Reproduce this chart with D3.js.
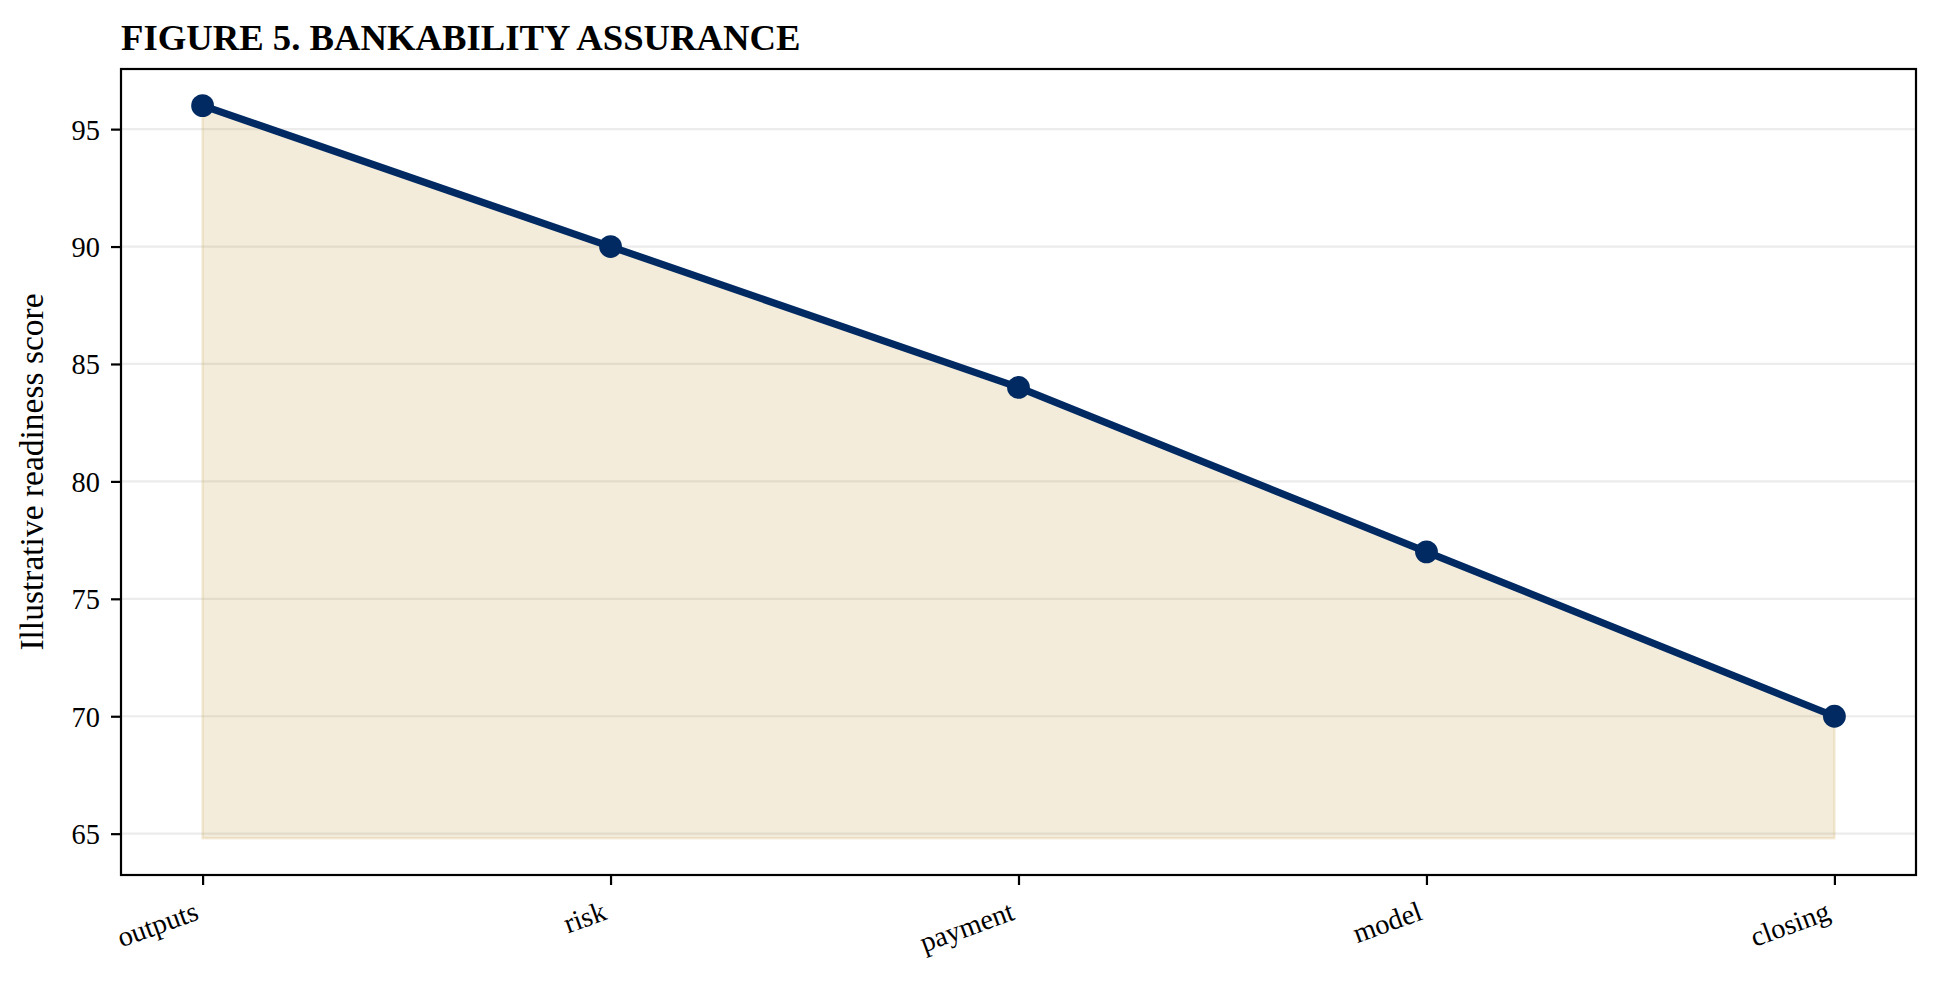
<!DOCTYPE html>
<html>
<head>
<meta charset="utf-8">
<script src="https://cdn.jsdelivr.net/npm/d3@7"></script>
<style>
  html, body { margin: 0; padding: 0; background: #ffffff; }
  svg { display: block; }
  text { font-family: "Liberation Serif", "Times New Roman", serif; fill: #000; }
</style>
</head>
<body>
<svg id="chart" width="1940" height="983"></svg>
<script>
// ---- data ----
const categories = ["outputs", "risk", "payment", "model", "closing"];
const scores = [96, 90, 84, 77, 70];
const fillBaseline = 64.8;
const yTicks = [65, 70, 75, 80, 85, 90, 95];
const yTickLabels = ["65", "70", "75", "80", "85", "90", "95"];
const titleText = "FIGURE 5. BANKABILITY ASSURANCE";
const yLabelText = "Illustrative readiness score";

// ---- layout ----
const W = 1940, H = 983;
const m = { left: 121, right: 1916, top: 69, bottom: 875 };
const navy = "#012a62";
const tan = "rgb(200,162,74)";

const svg = d3.select("#chart");

// matplotlib-like 5% margins
const xPad = 0.05 * (categories.length - 1);
const x = d3.scaleLinear()
  .domain([-xPad, categories.length - 1 + xPad])
  .range([m.left, m.right]);
const yMin = Math.min(fillBaseline, d3.min(scores));
const yMax = d3.max(scores);
const yPad = 0.05 * (yMax - yMin);
const y = d3.scaleLinear()
  .domain([yMin - yPad, yMax + yPad])
  .range([m.bottom, m.top]);

// grid
svg.append("g").selectAll("line").data(yTicks).join("line")
  .attr("x1", m.left).attr("x2", m.right)
  .attr("y1", d => y(d)).attr("y2", d => y(d))
  .attr("stroke", "#ececec").attr("stroke-width", 2.2);

// area fill
const area = d3.area()
  .x((d, i) => x(i))
  .y0(y(fillBaseline))
  .y1(d => y(d));
svg.append("path")
  .datum(scores)
  .attr("d", area)
  .attr("fill", tan).attr("fill-opacity", 0.2)
  .attr("stroke", tan).attr("stroke-opacity", 0.2).attr("stroke-width", 2.5);

// line
const line = d3.line().x((d, i) => x(i)).y(d => y(d));
svg.append("path")
  .datum(scores)
  .attr("d", line)
  .attr("fill", "none")
  .attr("stroke", navy)
  .attr("stroke-width", 7.2)
  .attr("stroke-linejoin", "round")
  .attr("stroke-linecap", "butt");

// markers
svg.append("g").selectAll("circle").data(scores).join("circle")
  .attr("cx", (d, i) => x(i))
  .attr("cy", d => y(d))
  .attr("r", 11.4)
  .attr("fill", navy);

// frame
svg.append("rect")
  .attr("x", m.left).attr("y", m.top)
  .attr("width", m.right - m.left).attr("height", m.bottom - m.top)
  .attr("fill", "none").attr("stroke", "#000").attr("stroke-width", 2.2);

// y axis
const yAxis = d3.axisLeft(y)
  .tickValues(yTicks)
  .tickFormat((d, i) => yTickLabels[i])
  .tickSize(10).tickPadding(11);
const gy = svg.append("g").attr("transform", `translate(${m.left},0)`).call(yAxis);
gy.select(".domain").remove();
gy.selectAll(".tick line").attr("stroke", "#000").attr("stroke-width", 2.2);
gy.selectAll(".tick text")
  .attr("font-size", 28.4)
  .attr("font-family", "Liberation Serif, Times New Roman, serif")
  .attr("dy", "0.35em")
  .attr("fill", "#000");

// x axis
const xAxis = d3.axisBottom(x)
  .tickValues(d3.range(categories.length))
  .tickFormat(i => categories[i])
  .tickSize(10).tickPadding(0);
const gx = svg.append("g").attr("transform", `translate(0,${m.bottom})`).call(xAxis);
gx.select(".domain").remove();
gx.selectAll(".tick line").attr("stroke", "#000").attr("stroke-width", 2.2);
gx.selectAll(".tick text")
  .attr("font-size", 28.4)
  .attr("font-family", "Liberation Serif, Times New Roman, serif")
  .attr("fill", "#000")
  .attr("text-anchor", "end")
  .attr("dy", null)
  .attr("y", null)
  .attr("transform", "translate(-3,44) rotate(-20)");

// title
svg.append("text")
  .attr("x", m.left).attr("y", 50)
  .attr("font-size", 36.7)
  .attr("font-weight", "bold")
  .text(titleText);

// y label
svg.append("text")
  .attr("transform", `translate(43,${(m.top + m.bottom) / 2}) rotate(-90)`)
  .attr("text-anchor", "middle")
  .attr("font-size", 33.5)
  .text(yLabelText);
</script>
</body>
</html>
